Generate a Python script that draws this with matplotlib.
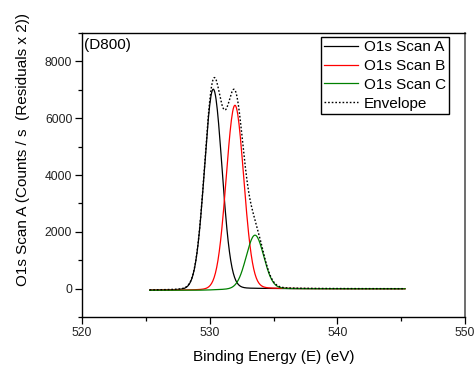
import numpy as np
import matplotlib
matplotlib.use("Agg")
import matplotlib.pyplot as plt
from matplotlib.ticker import MultipleLocator

plt.rcParams['font.family'] = ['Liberation Sans', 'DejaVu Sans']

# Fitted O1s components: name, centre (eV), height (counts/s), FWHM (eV),
# Lorentzian fraction of the Gaussian-Lorentzian line shape
component_names = ["O1s Scan A", "O1s Scan B", "O1s Scan C"]
component_centres = [530.28, 531.98, 533.55]
component_heights = [7070.0, 6480.0, 1890.0]
component_fwhm = [1.62, 1.62, 1.62]
component_lorentz = [0.05, 0.05, 0.05]
component_colors = ["black", "red", "#008000"]

# Background levels below and above the peak region (counts/s)
background_low = -60.0
background_high = -5.0

# Binding-energy range of the scan (eV)
energy_start = 525.3
energy_stop = 545.3
energy_step = 0.05

sample_label = "(D800)"

energy = np.arange(energy_start, energy_stop + energy_step / 2, energy_step)


def gl_peak(e, centre, height, fwhm, frac):
    r2 = ((e - centre) / (fwhm / 2.0)) ** 2
    gauss = np.exp(-np.log(2.0) * r2)
    lorentz = 1.0 / (1.0 + r2)
    return height * ((1.0 - frac) * gauss + frac * lorentz)


peaks = [gl_peak(energy, c, h, w, m)
         for c, h, w, m in zip(component_centres, component_heights,
                               component_fwhm, component_lorentz)]
peak_sum = np.sum(peaks, axis=0)

# Shirley-type step background following the integrated peak area
area = np.cumsum(peak_sum)
area = area / area[-1]
background = background_low + (background_high - background_low) * area

fig = plt.figure(figsize=(4.75, 3.70), dpi=100)
ax = fig.add_axes([82 / 475, 1 - 317 / 370, (465 - 82) / 475, (317 - 33) / 370])

for name, peak, col in zip(component_names, peaks, component_colors):
    ax.plot(energy, peak + background, color=col, lw=0.9, label=name)
ax.plot(energy, peak_sum + background, color="black", lw=1.0,
        linestyle=(0, (1.2, 1.4)), label="Envelope")

ax.set_xlim(520, 550)
ax.set_ylim(-1000, 9000)
ax.xaxis.set_major_locator(MultipleLocator(10))
ax.xaxis.set_minor_locator(MultipleLocator(5))
ax.yaxis.set_minor_locator(MultipleLocator(1000))
ax.set_yticks([0, 2000, 4000, 6000, 8000])

ax.tick_params(which="major", direction="out", length=5, width=0.9,
               labelsize=8.7, colors="black", labelcolor="#222222", pad=2)
ax.tick_params(which="minor", direction="out", length=3, width=0.9)
ax.tick_params(top=False, right=False, which="both")
for side in ["left", "bottom", "top"]:
    ax.spines[side].set_linewidth(1.0)
ax.spines["right"].set_linewidth(1.2)
ax.spines["right"].set_color("#555555")

ax.set_xlabel("Binding Energy (E) (eV)", fontsize=11, labelpad=8)
ax.set_ylabel("O1s Scan A (Counts / s  (Residuals x 2))", fontsize=11)
ax.yaxis.set_label_coords(-0.135, 0.59)

ax.text(0.006, 0.958, sample_label, transform=ax.transAxes, fontsize=11,
        ha="left", va="center")

leg = ax.legend(loc="upper right", bbox_to_anchor=(0.958, 0.986),
                fontsize=11, frameon=True, fancybox=False, shadow=False,
                framealpha=1.0, edgecolor="black", borderpad=0.2,
                labelspacing=0.32, handlelength=2.2, handletextpad=0.4,
                borderaxespad=0.0)
leg.get_frame().set_linewidth(1.0)

fig.savefig("out.png", dpi=100)
